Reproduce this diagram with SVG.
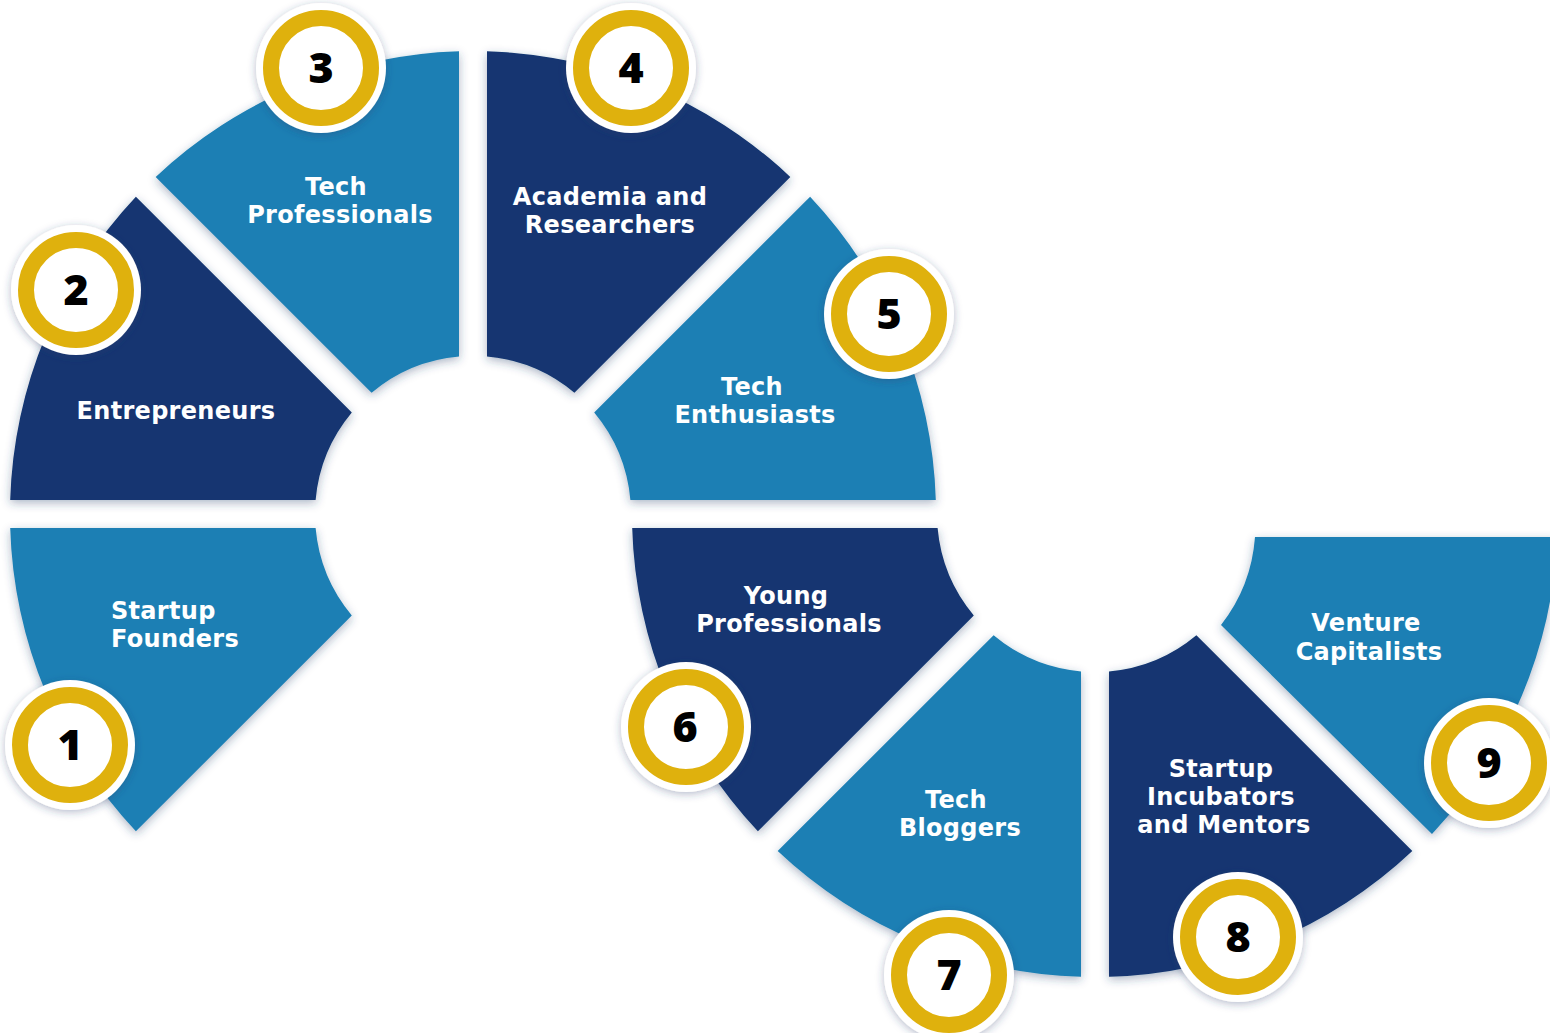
<svg xmlns="http://www.w3.org/2000/svg" width="1550" height="1033" viewBox="0 0 1550 1033">
<defs>
<filter id="sh" x="-15%" y="-15%" width="130%" height="130%">
<feDropShadow dx="0" dy="3" stdDeviation="5" flood-color="#2b3d6b" flood-opacity="0.38"/>
</filter>
<filter id="csh" x="-30%" y="-30%" width="160%" height="160%">
<feDropShadow dx="0" dy="2" stdDeviation="4" flood-color="#2b3d6b" flood-opacity="0.35"/>
</filter>
</defs>
<style>
.lb{fill:#1A7FB4;filter:url(#sh)}
.dk{fill:#123671;filter:url(#sh)}
.lbl{font-family:"DejaVu Sans","Open Sans",sans-serif;font-weight:700;font-size:24px;letter-spacing:0.3px;fill:#ffffff;text-anchor:middle}
.st{text-anchor:start}
.halo{fill:#ffffff;filter:url(#csh)}
.ring{fill:#ffffff;stroke:#DFB10D;stroke-width:16}
.num{font-family:"Open Sans","Liberation Sans",sans-serif;font-weight:800;font-size:43px;fill:#000000;text-anchor:middle}
</style>
<rect width="1550" height="1033" fill="#ffffff"/>
<g id="connectors"></g>

<g id="n1-startup-founders">
<path class="lb" d="M351.8 615.4 L135.9 831.3 A463 463 0 0 1 10.2 528 L315.6 528 A158 158 0 0 0 351.8 615.4Z"/>
<text class="lbl st"><tspan x="111" y="619">Startup</tspan><tspan x="111" y="647">Founders</tspan></text>
<circle class="halo" cx="70" cy="745" r="65"/>
<circle class="ring" cx="70" cy="745" r="50"/>
<text class="num" x="70" y="760">1</text>
</g>

<g id="n2-entrepreneurs">
<path class="dk" d="M315.6 500 L10.2 500 A463 463 0 0 1 135.9 196.7 L351.8 412.6 A158 158 0 0 0 315.6 500Z"/>
<text class="lbl" x="176" y="419">Entrepreneurs</text>
<circle class="halo" cx="76" cy="290" r="65"/>
<circle class="ring" cx="76" cy="290" r="50"/>
<text class="num" x="76" y="305">2</text>
</g>

<g id="n3-tech-professionals">
<path class="lb" d="M371.6 392.8 L155.7 176.9 A463 463 0 0 1 459 51.2 L459 356.6 A158 158 0 0 0 371.6 392.8Z"/>
<text class="lbl"><tspan x="336" y="195">Tech</tspan><tspan x="340" y="223">Professionals</tspan></text>
<circle class="halo" cx="321" cy="68" r="65"/>
<circle class="ring" cx="321" cy="68" r="50"/>
<text class="num" x="321" y="83">3</text>
</g>

<g id="n4-academia">
<path class="dk" d="M487 356.6 L487 51.2 A463 463 0 0 1 790.3 176.9 L574.4 392.8 A158 158 0 0 0 487 356.6Z"/>
<text class="lbl"><tspan x="610" y="205">Academia and</tspan><tspan x="610" y="233">Researchers</tspan></text>
<circle class="halo" cx="631" cy="68" r="65"/>
<circle class="ring" cx="631" cy="68" r="50"/>
<text class="num" x="631" y="83">4</text>
</g>

<g id="n5-tech-enthusiasts">
<path class="lb" d="M594.2 412.6 L810.1 196.7 A463 463 0 0 1 935.8 500 L630.4 500 A158 158 0 0 0 594.2 412.6Z"/>
<text class="lbl"><tspan x="752" y="395">Tech</tspan><tspan x="755" y="423">Enthusiasts</tspan></text>
<circle class="halo" cx="889" cy="314" r="65"/>
<circle class="ring" cx="889" cy="314" r="50"/>
<text class="num" x="889" y="329">5</text>
</g>

<g id="n6-young-professionals">
<path class="dk" d="M973.8 615.4 L757.9 831.3 A463 463 0 0 1 632.2 528 L937.6 528 A158 158 0 0 0 973.8 615.4Z"/>
<text class="lbl"><tspan x="786" y="604">Young</tspan><tspan x="789" y="632">Professionals</tspan></text>
<circle class="halo" cx="686" cy="727" r="65"/>
<circle class="ring" cx="686" cy="727" r="50"/>
<text class="num" x="685" y="742">6</text>
</g>

<g id="n7-tech-bloggers">
<path class="lb" d="M1081 671.4 L1081 976.8 A463 463 0 0 1 777.7 851.1 L993.6 635.2 A158 158 0 0 0 1081 671.4Z"/>
<text class="lbl"><tspan x="956" y="808">Tech</tspan><tspan x="960" y="836">Bloggers</tspan></text>
<circle class="halo" cx="949" cy="975" r="65"/>
<circle class="ring" cx="949" cy="975" r="50"/>
<text class="num" x="949" y="990">7</text>
</g>

<g id="n8-startup-incubators">
<path class="dk" d="M1196.4 635.2 L1412.3 851.1 A463 463 0 0 1 1109 976.8 L1109 671.4 A158 158 0 0 0 1196.4 635.2Z"/>
<text class="lbl"><tspan x="1221" y="777">Startup</tspan><tspan x="1221" y="805">Incubators</tspan><tspan x="1224" y="833">and Mentors</tspan></text>
<circle class="halo" cx="1238" cy="937" r="65"/>
<circle class="ring" cx="1238" cy="937" r="50"/>
<text class="num" x="1238" y="952">8</text>
</g>

<g id="n9-venture-capitalists">
<path class="lb" d="M1255 537 L1557.4 537 A463 463 0 0 1 1432 834 L1221 625 A162 162 0 0 0 1255 537Z"/>
<text class="lbl"><tspan x="1366" y="631">Venture</tspan><tspan x="1369" y="660">Capitalists</tspan></text>
<circle class="halo" cx="1489" cy="763" r="65"/>
<circle class="ring" cx="1489" cy="763" r="50"/>
<text class="num" x="1489" y="778">9</text>
</g>
</svg>
